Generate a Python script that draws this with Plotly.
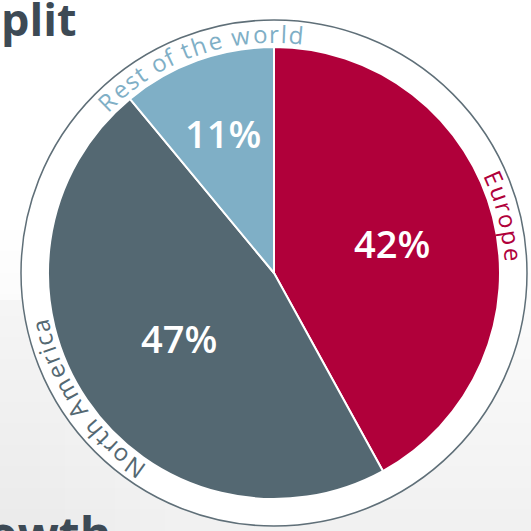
import math
import plotly.graph_objects as go

# ---- data ----
regions = ["Europe", "North America", "Rest of the world"]
shares = [42, 47, 11]
colors = ["#B0003A", "#546872", "#7FAFC6"]
ring_labels = ["Europe", "North America", "Rest of the world"]

W = H = 531
CX, CY = 274, 273          # pie centre (px)
R_PIE = 226
R_RING = 253
R_TEXT = 240

def px(x):
    return x / W

def py(y):
    return 1 - y / H

fig = go.Figure()
fig.add_trace(go.Pie(
    labels=regions,
    values=shares,
    sort=False,
    direction="clockwise",
    rotation=0,
    marker=dict(colors=colors, line=dict(color="white", width=2)),
    textinfo="none",
    showlegend=False,
    hoverinfo="label+percent",
    domain=dict(x=[px(CX - R_PIE), px(CX + R_PIE)],
                y=[py(CY + R_PIE), py(CY - R_PIE)]),
))

shapes = []
# soft grey background wash towards the bottom / left
N = 14
for i in range(N):
    top = 230 + i * (531 - 230) / N
    shapes.append(dict(type="rect", xref="paper", yref="paper", layer="below",
                       x0=0, x1=1, y0=0, y1=py(top),
                       fillcolor="#D0D4D7", opacity=0.03, line=dict(width=0)))
for i in range(6):
    shapes.append(dict(type="rect", xref="paper", yref="paper", layer="below",
                       x0=0, x1=px(40 + i * 25), y0=0, y1=py(300),
                       fillcolor="#D0D4D7", opacity=0.025, line=dict(width=0)))
# outer ring
shapes.append(dict(type="circle", xref="paper", yref="paper", layer="below",
                   x0=px(CX - R_RING), x1=px(CX + R_RING),
                   y0=py(CY + R_RING), y1=py(CY - R_RING),
                   fillcolor="white", line=dict(color="#5F6F78", width=1.5)))

annotations = []

# percentage labels placed at each slice's mid-angle
radial = [0.54, 0.51, 0.66]
cum = 0
total = sum(shares)
for v, rf in zip(shares, radial):
    mid = math.radians((cum + v / 2) / total * 360)
    cum += v
    x = CX + rf * R_PIE * math.sin(mid)
    y = CY - rf * R_PIE * math.cos(mid)
    annotations.append(dict(text=f"{v}%", x=px(x), y=py(y), xref="paper", yref="paper",
                            showarrow=False, xanchor="center", yanchor="middle",
                            font=dict(family="Open Sans", size=38, color="white", weight=600)))

# approximate advance widths (em) for curved labels
WID = {"R": .63, "e": .56, "s": .48, "t": .35, " ": .26, "o": .6, "f": .34,
       "h": .61, "w": .8, "r": .41, "l": .27, "d": .61, "E": .56, "u": .61,
       "p": .61, "N": .75, "A": .63, "m": .93, "i": .27, "c": .48, "a": .56}
FS = 24
TRACK = 1.18

def curved(text, center_deg, color):
    adv = [WID.get(ch, .55) * FS * TRACK for ch in text]
    tot = sum(adv)
    start = math.radians(center_deg) - tot / (2 * R_TEXT)
    pos = 0
    for ch, a in zip(text, adv):
        th = start + (pos + a / 2) / R_TEXT
        pos += a
        if ch == " ":
            continue
        x = CX + R_TEXT * math.sin(th)
        y = CY - R_TEXT * math.cos(th)
        annotations.append(dict(text=ch, x=px(x), y=py(y), xref="paper", yref="paper",
                                showarrow=False, xanchor="center", yanchor="middle",
                                textangle=math.degrees(th),
                                font=dict(family="Open Sans", size=FS, color=color)))

curved(ring_labels[2], 340.5, colors[2])
curved(ring_labels[0], 76, colors[0])
curved(ring_labels[1], 236, colors[1])

# cropped headings
annotations.append(dict(text="<b>plit</b>", x=px(-1), y=py(-14), xref="paper", yref="paper",
                        showarrow=False, xanchor="left", yanchor="top",
                        font=dict(family="Open Sans", size=45, color="#3D4A55")))
annotations.append(dict(text="<b>owth</b>", x=px(-14), y=py(499), xref="paper", yref="paper",
                        showarrow=False, xanchor="left", yanchor="top",
                        font=dict(family="Open Sans", size=48, color="#3D4A55")))

fig.update_layout(width=W, height=H, margin=dict(l=0, r=0, t=0, b=0),
                  paper_bgcolor="white", plot_bgcolor="white",
                  shapes=shapes, annotations=annotations)

fig.write_html("out.html", config={"displayModeBar": False},
               post_script="document.body.style.margin='0';")
